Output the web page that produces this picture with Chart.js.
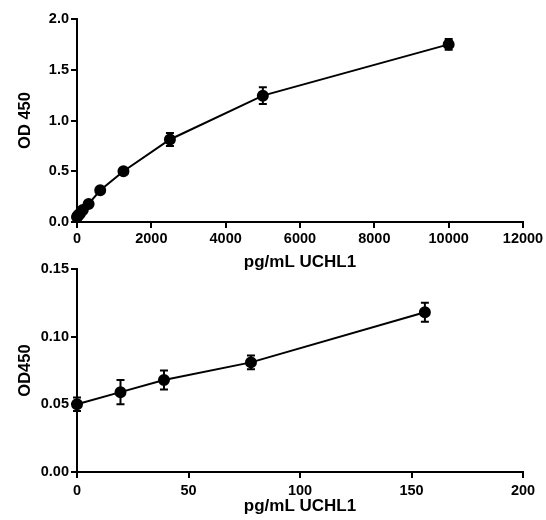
<!DOCTYPE html>
<html>
<head>
<meta charset="utf-8">
<script src="https://cdn.jsdelivr.net/npm/chart.js@4.4.1/dist/chart.umd.min.js"></script>
<style>
  html, body { margin: 0; padding: 0; background: #fff; overflow: hidden; }
  body { width: 546px; height: 520px; position: relative; }
  .box { position: absolute; left: 0; width: 546px; }
  #top { top: 0; height: 275px; }
  #bottom { top: 250px; height: 270px; }
</style>
</head>
<body>
<div class="box" id="top"><canvas id="curveFull"></canvas></div>
<div class="box" id="bottom"><canvas id="curveLow"></canvas></div>
<script>
// Concentraciones del estándar (pg/mL UCHL1)
const conc = [0, 19.5, 39, 78, 156, 312.5, 625, 1250, 2500, 5000, 10000];
// Absorbancia media a 450 nm
const od = [0.050, 0.059, 0.068, 0.081, 0.118, 0.178, 0.313, 0.500, 0.813, 1.245, 1.750];
// Desviación (barras de error)
const sd = [0.005, 0.009, 0.007, 0.005, 0.007, 0.010, 0.012, 0.012, 0.064, 0.083, 0.052];
// Cuántos puntos entran en el gráfico de rango bajo
const lowCount = 5;

const FONT = "'Liberation Sans', Arial, sans-serif";
Chart.defaults.font.family = FONT;
Chart.defaults.color = "#000";

// Plugin para dibujar barras de error con las escalas del gráfico
const errorBars = {
  id: "errorBars",
  afterDatasetsDraw(chart) {
    const ctx = chart.ctx;
    const xs = chart.scales.x;
    const ys = chart.scales.y;
    chart.data.datasets.forEach((ds) => {
      ds.data.forEach((p) => {
        const x = xs.getPixelForValue(p.x);
        const yHi = ys.getPixelForValue(p.y + p.err);
        const yLo = ys.getPixelForValue(p.y - p.err);
        ctx.save();
        ctx.strokeStyle = "#000";
        ctx.lineWidth = 2;
        ctx.beginPath();
        ctx.moveTo(x, yHi);
        ctx.lineTo(x, yLo);
        ctx.moveTo(x - 4, yHi);
        ctx.lineTo(x + 4, yHi);
        ctx.moveTo(x - 4, yLo);
        ctx.lineTo(x + 4, yLo);
        ctx.stroke();
        ctx.restore();
      });
    });
  },
};

function points(n) {
  return conc.slice(0, n).map((c, i) => ({ x: c, y: od[i], err: sd[i] }));
}

function makeChart(id, opts) {
  const axisGrid = {
    drawOnChartArea: false,
    drawTicks: true,
    tickLength: 6,
    color: "#000",
    lineWidth: 2,
  };
  const axisBorder = { color: "#000", width: 2 };
  return new Chart(document.getElementById(id), {
    type: "line",
    data: {
      datasets: [
        {
          data: points(opts.n),
          borderColor: "#000",
          borderWidth: 2,
          backgroundColor: "#000",
          pointBackgroundColor: "#000",
          pointBorderColor: "#000",
          pointRadius: 5,
          pointHoverRadius: 5,
          tension: 0,
          clip: false,
        },
      ],
    },
    options: {
      responsive: true,
      maintainAspectRatio: false,
      animation: false,
      events: [],
      layout: { padding: { top: 19, right: 23, left: 0, bottom: 0 } },
      plugins: { legend: { display: false }, tooltip: { enabled: false } },
      scales: {
        x: {
          type: "linear",
          min: 0,
          max: opts.xMax,
          grid: axisGrid,
          border: axisBorder,
          ticks: {
            stepSize: opts.xStep,
            padding: opts.xPad,
            maxRotation: 0,
            font: { size: 14.5, weight: "bold" },
            callback: (v) => String(v),
          },
          title: {
            display: true,
            text: "pg/mL UCHL1",
            font: { size: 17, weight: "bold" },
            padding: { top: 0, bottom: opts.titlePad },
          },
          afterFit: (s) => { s.height = opts.xHeight; },
        },
        y: {
          min: 0,
          max: opts.yMax,
          grid: axisGrid,
          border: axisBorder,
          ticks: {
            stepSize: opts.yStep,
            padding: 2,
            font: { size: 14.5, weight: "bold" },
            callback: (v) => v.toFixed(opts.yDigits),
          },
          title: {
            display: true,
            text: opts.yTitle,
            font: { size: 16.5, weight: "bold" },
            padding: { top: 16, bottom: 0 },
          },
          afterFit: (s) => { s.width = 77; },
        },
      },
    },
    plugins: [errorBars],
  });
}

// Curva completa
makeChart("curveFull", {
  n: conc.length,
  xMax: 12000, xStep: 2000, xPad: 2,
  yMax: 2, yStep: 0.5, yDigits: 1,
  yTitle: "OD 450",
  xHeight: 53, titlePad: 2,
});

// Rango bajo de la curva
makeChart("curveLow", {
  n: lowCount,
  xMax: 200, xStep: 50, xPad: 4,
  yMax: 0.15, yStep: 0.05, yDigits: 2,
  yTitle: "OD450",
  xHeight: 48, titlePad: 3,
});
</script>
</body>
</html>
